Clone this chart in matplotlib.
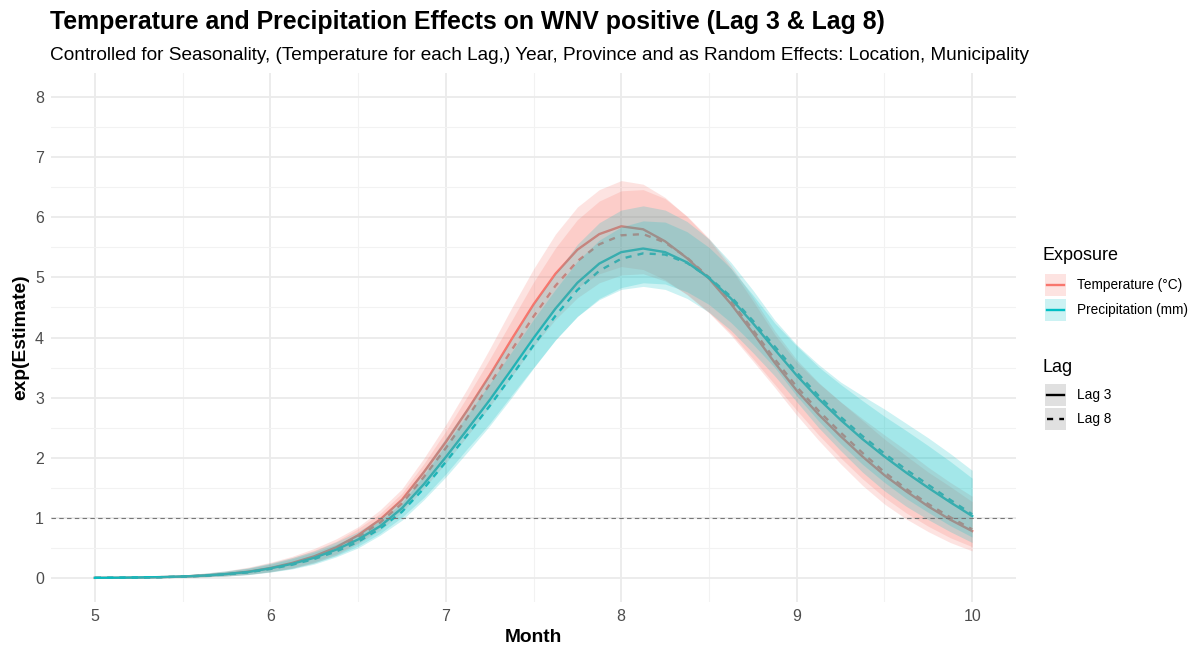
import matplotlib
matplotlib.use("Agg")
import matplotlib.pyplot as plt
from matplotlib.patches import Rectangle
from matplotlib.lines import Line2D

plt.rcParams["font.family"] = ["Liberation Sans", "DejaVu Sans"]

# model predictions on a 1/8-month grid
month = [5.0, 5.125, 5.25, 5.375, 5.5, 5.625, 5.75, 5.875,
         6.0, 6.125, 6.25, 6.375, 6.5, 6.625, 6.75, 6.875,
         7.0, 7.125, 7.25, 7.375, 7.5, 7.625, 7.75, 7.875,
         8.0, 8.125, 8.25, 8.375, 8.5, 8.625, 8.75, 8.875,
         9.0, 9.125, 9.25, 9.375, 9.5, 9.625, 9.75, 9.875, 10.0]

temp_lag3 = [0.002, 0.004, 0.008, 0.014, 0.024, 0.04, 0.065, 0.105,
             0.165, 0.25, 0.36, 0.51, 0.71, 0.97, 1.30, 1.76,
             2.26, 2.80, 3.37, 3.97, 4.55, 5.06, 5.46, 5.72,
             5.85, 5.80, 5.60, 5.32, 4.98, 4.56, 4.08, 3.58,
             3.12, 2.72, 2.36, 2.02, 1.71, 1.44, 1.19, 0.97, 0.78]
temp_lag3_lo = [0.001, 0.002, 0.003, 0.006, 0.011, 0.02, 0.035, 0.062,
                0.106, 0.17, 0.27, 0.40, 0.59, 0.84, 1.14, 1.56,
                2.00, 2.48, 2.98, 3.51, 4.03, 4.48, 4.83, 5.06,
                5.18, 5.13, 4.96, 4.71, 4.41, 4.04, 3.61, 3.17,
                2.71, 2.29, 1.90, 1.54, 1.23, 0.98, 0.77, 0.59, 0.45]
temp_lag3_hi = [0.005, 0.010, 0.018, 0.031, 0.050, 0.08, 0.12, 0.18,
                0.26, 0.36, 0.49, 0.65, 0.85, 1.13, 1.48, 1.99,
                2.55, 3.16, 3.81, 4.49, 5.14, 5.72, 6.17, 6.46,
                6.61, 6.55, 6.33, 6.01, 5.63, 5.15, 4.61, 4.05,
                3.59, 3.24, 2.93, 2.65, 2.38, 2.12, 1.84, 1.59, 1.36]

temp_lag8 = [0.002, 0.004, 0.007, 0.013, 0.022, 0.037, 0.06, 0.097,
             0.155, 0.235, 0.34, 0.48, 0.68, 0.92, 1.24, 1.68,
             2.16, 2.68, 3.22, 3.79, 4.35, 4.86, 5.27, 5.55,
             5.70, 5.72, 5.58, 5.33, 5.00, 4.60, 4.13, 3.64,
             3.18, 2.78, 2.42, 2.08, 1.76, 1.48, 1.23, 1.01, 0.81]
temp_lag8_lo = [0.001, 0.002, 0.003, 0.006, 0.010, 0.019, 0.032, 0.057,
                0.10, 0.16, 0.25, 0.38, 0.57, 0.79, 1.09, 1.49,
                1.91, 2.37, 2.85, 3.35, 3.85, 4.30, 4.66, 4.91,
                5.04, 5.06, 4.94, 4.72, 4.42, 4.07, 3.65, 3.22,
                2.79, 2.38, 2.00, 1.65, 1.34, 1.08, 0.86, 0.67, 0.52]
temp_lag8_hi = [0.005, 0.010, 0.016, 0.029, 0.046, 0.074, 0.11, 0.165,
                0.24, 0.34, 0.46, 0.61, 0.82, 1.07, 1.41, 1.90,
                2.44, 3.03, 3.64, 4.28, 4.92, 5.49, 5.96, 6.27,
                6.44, 6.46, 6.31, 6.02, 5.65, 5.20, 4.67, 4.11,
                3.63, 3.25, 2.93, 2.62, 2.31, 2.03, 1.76, 1.52, 1.27]

prec_lag3 = [0.002, 0.004, 0.008, 0.014, 0.024, 0.04, 0.065, 0.10,
             0.16, 0.235, 0.335, 0.47, 0.64, 0.86, 1.16, 1.56,
             2.01, 2.48, 2.96, 3.47, 3.99, 4.48, 4.91, 5.23,
             5.42, 5.48, 5.42, 5.25, 4.99, 4.65, 4.24, 3.80,
             3.37, 2.98, 2.63, 2.31, 2.02, 1.75, 1.50, 1.26, 1.03]
prec_lag3_lo = [0.001, 0.002, 0.003, 0.006, 0.011, 0.02, 0.035, 0.059,
                0.103, 0.16, 0.25, 0.37, 0.53, 0.74, 1.01, 1.34,
                1.73, 2.16, 2.57, 3.04, 3.50, 3.96, 4.35, 4.63,
                4.80, 4.85, 4.80, 4.65, 4.42, 4.12, 3.75, 3.36,
                2.93, 2.50, 2.12, 1.76, 1.45, 1.19, 0.97, 0.77, 0.59]
prec_lag3_hi = [0.005, 0.010, 0.018, 0.031, 0.050, 0.08, 0.12, 0.17,
                0.25, 0.34, 0.45, 0.60, 0.77, 1.00, 1.33, 1.81,
                2.33, 2.85, 3.40, 3.96, 4.55, 5.06, 5.55, 5.91,
                6.12, 6.19, 6.12, 5.93, 5.64, 5.25, 4.79, 4.29,
                3.88, 3.55, 3.26, 3.03, 2.81, 2.57, 2.33, 2.07, 1.79]

prec_lag8 = [0.002, 0.004, 0.007, 0.013, 0.022, 0.037, 0.06, 0.094,
             0.15, 0.22, 0.315, 0.44, 0.60, 0.82, 1.10, 1.49,
             1.93, 2.39, 2.86, 3.36, 3.87, 4.36, 4.79, 5.11,
             5.31, 5.40, 5.38, 5.24, 5.00, 4.68, 4.28, 3.85,
             3.42, 3.03, 2.68, 2.36, 2.07, 1.80, 1.55, 1.30, 1.06]
prec_lag8_lo = [0.001, 0.002, 0.003, 0.006, 0.010, 0.019, 0.032, 0.055,
                0.097, 0.15, 0.23, 0.35, 0.50, 0.71, 0.96, 1.30,
                1.68, 2.10, 2.53, 3.00, 3.49, 3.96, 4.35, 4.65,
                4.83, 4.91, 4.89, 4.76, 4.55, 4.25, 3.89, 3.50,
                3.03, 2.61, 2.23, 1.89, 1.59, 1.32, 1.09, 0.87, 0.68]
prec_lag8_hi = [0.005, 0.010, 0.016, 0.029, 0.046, 0.074, 0.11, 0.16,
                0.23, 0.32, 0.43, 0.56, 0.72, 0.95, 1.25, 1.71,
                2.22, 2.72, 3.23, 3.76, 4.30, 4.80, 5.27, 5.62,
                5.84, 5.94, 5.92, 5.76, 5.50, 5.15, 4.71, 4.24,
                3.86, 3.51, 3.22, 2.95, 2.69, 2.45, 2.20, 1.94, 1.66]

exposure_labels = ["Temperature (°C)", "Precipitation (mm)"]
lag_labels = ["Lag 3", "Lag 8"]
x_ticks = [5, 6, 7, 8, 9, 10]
y_ticks = [0, 1, 2, 3, 4, 5, 6, 7, 8]

RED, TEAL = "#F8766D", "#00BFC4"
LS = {"Lag 3": "-", "Lag 8": (0, (2.6, 2.6))}
W, H = 1189, 648

series = [
    (temp_lag3, temp_lag3_lo, temp_lag3_hi, RED, "Lag 3"),
    (temp_lag8, temp_lag8_lo, temp_lag8_hi, RED, "Lag 8"),
    (prec_lag3, prec_lag3_lo, prec_lag3_hi, TEAL, "Lag 3"),
    (prec_lag8, prec_lag8_lo, prec_lag8_hi, TEAL, "Lag 8"),
]

fig = plt.figure(figsize=(W / 100, H / 100), dpi=100)
ax = fig.add_axes([51 / W, 1 - 602 / H, (1016 - 51) / W, (602 - 73) / H])

# lines first, ribbons laid over them (as in the ggplot layer order)
for est, lo, hi, col, lag in series:
    ax.plot(month, est, color=col, lw=1.7, ls=LS[lag], zorder=3)
for est, lo, hi, col, lag in series:
    ax.fill_between(month, lo, hi, color=col, alpha=0.2, lw=0, zorder=4)

ax.axhline(1, color="#777777", lw=0.8, ls=(0, (4, 3)), zorder=5)

ax.set_xlim(4.75, 10.25)
ax.set_ylim(-0.4, 8.4)
ax.set_xticks(x_ticks)
ax.set_yticks(y_ticks)
ax.set_xticks([5.5, 6.5, 7.5, 8.5, 9.5], minor=True)
ax.set_yticks([0.5, 1.5, 2.5, 3.5, 4.5, 5.5, 6.5, 7.5], minor=True)
ax.grid(which="major", color="#EBEBEB", lw=1.3, zorder=0)
ax.grid(which="minor", color="#F2F2F2", lw=0.8, zorder=0)
ax.set_axisbelow(True)
for s in ax.spines.values():
    s.set_visible(False)
ax.tick_params(which="both", length=0, labelsize=11.5, labelcolor="#4D4D4D", pad=5)
ax.set_xlabel("Month", fontsize=13.8, fontweight="bold", labelpad=4)
ax.set_ylabel("exp(Estimate)", fontsize=13.8, fontweight="bold", labelpad=4)

fig.text(50 / W, 1 - 22 / H, "Temperature and Precipitation Effects on WNV positive (Lag 3 & Lag 8)",
         fontsize=17.9, fontweight="bold", va="center", ha="left")
fig.text(50 / W, 1 - 55 / H,
         "Controlled for Seasonality, (Temperature for each Lag,) Year, Province and as Random Effects: Location, Municipality",
         fontsize=13.7, va="center", ha="left")


# legends drawn by hand in pixel positions: ribbon-coloured key, line on top
def legend_block(title, title_y, rows):
    fig.text(1043 / W, 1 - title_y / H, title, fontsize=13, va="center", ha="left")
    for y, label, fill, alpha, col, ls in rows:
        fig.add_artist(Rectangle((1045 / W, 1 - (y + 11) / H), 21 / W, 22 / H,
                                 transform=fig.transFigure, facecolor=fill, alpha=alpha, lw=0))
        fig.add_artist(Line2D([1047 / W, 1064 / W], [1 - y / H, 1 - y / H],
                              transform=fig.transFigure, color=col, lw=1.7, ls=ls))
        fig.text(1077 / W, 1 - y / H, label, fontsize=9.8, va="center", ha="left")


legend_block("Exposure", 256, [
    (285, exposure_labels[0], RED, 0.2, RED, "-"),
    (310, exposure_labels[1], TEAL, 0.2, TEAL, "-"),
])
legend_block("Lag", 367, [
    (395, lag_labels[0], "#D9D9D9", 0.8, "black", LS["Lag 3"]),
    (419, lag_labels[1], "#D9D9D9", 0.8, "black", LS["Lag 8"]),
])

fig.savefig("out.png", dpi=100, facecolor="white")
